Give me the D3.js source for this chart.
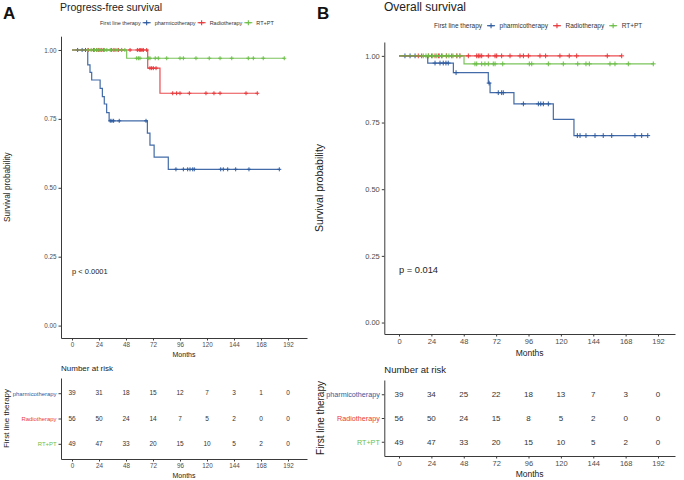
<!DOCTYPE html>
<html>
<head>
<meta charset="utf-8">
<script src="https://cdn.jsdelivr.net/npm/d3@7"></script>
<style>
  body { margin: 0; background: #fff; }
  svg { font-family: "Liberation Sans", Arial, sans-serif; display: block; }
</style>
</head>
<body>
<div id="chart"></div>
<script>
// ---- data ----
const timeTicks = [0, 24, 48, 72, 96, 120, 144, 168, 192];
const survTicks = [0, 0.25, 0.5, 0.75, 1];
const groups = ["pharmicotherapy", "Radiotherapy", "RT+PT"];

// Progress-free survival: [month, survival] steps, last follow-up, censored months
const pfsPharmSteps = [[0, 1], [14, 0.946], [16, 0.919], [17.5, 0.891], [25, 0.861], [27, 0.831],
  [28.7, 0.804], [30.8, 0.773], [33, 0.743], [67, 0.698], [69.3, 0.655], [73, 0.611], [85.6, 0.567]];
const pfsPharmEnd = 184.3;
const pfsPharmCensor = [5, 9, 12, 34, 35.5, 37, 42, 65.8, 92.4, 99, 102.8, 104.9, 107.3, 108.7,
  132.2, 134.5, 138.4, 145.5, 157.3, 184.3];

const pfsRadioSteps = [[0, 1], [67.3, 0.934], [78.2, 0.843]];
const pfsRadioEnd = 164.7;
const pfsRadioCensor = [14.5, 19, 22, 23.4, 24.9, 26.4, 27.8, 35.3, 38.2, 41.2, 44.2, 51.6, 58.1,
  59.8, 61.1, 62.2, 63.4, 66.4, 69.3, 70.8, 72.3, 74.7, 89.5, 93, 96, 104.3, 119.1, 126.2, 131.6,
  154.7, 164.7];

const pfsRtptSteps = [[0, 1], [48.6, 0.970]];
const pfsRtptEnd = 188.7;
const pfsRtptCensor = [14, 17, 20, 22, 24, 26, 29, 31, 34, 37, 40, 44, 47, 57.5, 59, 60.4, 67.8,
  69.3, 74, 76.7, 84.2, 96, 99, 110.2, 122, 131.6, 142, 156.7, 161.2, 170, 188.7];

// Overall survival
const osPharmSteps = [[0, 1], [21.3, 0.973], [40.3, 0.937], [66.2, 0.898], [67.5, 0.862],
  [85.2, 0.82], [114.4, 0.762], [129.7, 0.701]];
const osPharmEnd = 184.4;
const osPharmCensor = [4.4, 8.2, 11.9, 26.7, 30.4, 32.8, 34.8, 36.5, 42.3, 66.8, 73.6, 76.1, 77.3,
  92.2, 103.3, 105.1, 107, 110.7, 132.2, 134.2, 138.6, 145.3, 151.4, 157.7, 174.9, 179.9, 184.4];

const osRadioSteps = [[0, 1]];
const osRadioEnd = 165.1;
const osRadioCensor = [14.3, 16.8, 21.7, 24.2, 26.7, 29.2, 31.6, 35.3, 39.1, 42.8, 45.2, 51.4,
  57.6, 58.8, 60, 61.3, 66.2, 71.2, 72.4, 76.1, 82.3, 89.7, 92.2, 95.9, 104.5, 108.7, 119.3,
  126.2, 131.7, 154.4, 165.1];

const osRtptSteps = [[0, 1], [48.2, 0.97]];
const osRtptEnd = 188.5;
const osRtptCensor = [18, 20, 22, 25, 28, 30, 32, 35, 37, 40, 43, 45, 56.3, 57.6, 61.3, 63.7,
  66.2, 69.9, 71.2, 76.9, 96.6, 98.4, 110.7, 121.8, 132.5, 138.6, 141.1, 156.4, 160.1, 170, 188.5];

// Numbers at risk at each time tick
const pfsRiskPharm = [39, 31, 18, 15, 12, 7, 3, 1, 0];
const pfsRiskRadio = [56, 50, 24, 14, 7, 5, 2, 0, 0];
const pfsRiskRtpt = [49, 47, 33, 20, 15, 10, 5, 2, 0];
const osRiskPharm = [39, 34, 25, 22, 18, 13, 7, 3, 0];
const osRiskRadio = [56, 50, 24, 15, 8, 5, 2, 0, 0];
const osRiskRtpt = [49, 47, 33, 20, 15, 10, 5, 2, 0];

const colors = ["#2E5B9F", "#E8393C", "#6CBE48"];
const axisColor = "#3a3a3a";
const tickText = "#4d4d4d";

const svg = d3.select("#chart")
  .append("svg")
  .attr("width", 684)
  .attr("height", 480);

// ---- panel drawing ----
function survAt(steps, t) {
  let s = steps[0][1];
  for (const [ti, si] of steps) if (ti <= t) s = si;
  return s;
}

function styleAxis(g, fs) {
  g.select(".domain").attr("stroke", axisColor).attr("stroke-width", 1);
  g.selectAll(".tick line").attr("stroke", axisColor);
  g.selectAll(".tick text").attr("fill", tickText).style("font-size", fs + "px");
}

function drawPanel(cfg) {
  const g = svg.append("g");

  // panel letter + title
  g.append("text").attr("x", cfg.letterX).attr("y", 19)
    .style("font-size", "17px").style("font-weight", "bold").attr("fill", "#111")
    .text(cfg.letter);
  g.append("text").attr("x", cfg.titleX).attr("y", cfg.titleY)
    .style("font-size", cfg.fs.title + "px").attr("fill", "#222")
    .text(cfg.title);

  // legend
  const leg = g.append("g").attr("transform", `translate(${cfg.legX},${cfg.legY})`);
  let lx = 0;
  const lt = leg.append("text").attr("x", lx).attr("dy", "0.35em")
    .style("font-size", cfg.fs.legend + "px").attr("fill", "#333").text("First line therapy");
  lx += lt.node().getComputedTextLength() + cfg.leg.g1;
  groups.forEach((name, i) => {
    leg.append("line").attr("x1", lx).attr("x2", lx + cfg.leg.kw)
      .attr("stroke", colors[i]).attr("stroke-width", 1.1);
    leg.append("path").attr("d", `M${lx + cfg.leg.kw / 2 - 2.5},0h5M${lx + cfg.leg.kw / 2},-2.5v5`)
      .attr("stroke", colors[i]).attr("stroke-width", 1.1);
    lx += cfg.leg.kw + cfg.leg.g2;
    const t = leg.append("text").attr("x", lx).attr("dy", "0.35em")
      .style("font-size", cfg.fs.legend + "px").attr("fill", "#333").text(name);
    lx += t.node().getComputedTextLength() + cfg.leg.g3;
  });

  // scales for the survival plot
  const x = d3.scaleLinear().domain(cfg.xDom).range(cfg.xRange);
  const y = d3.scaleLinear().domain(cfg.yDom).range(cfg.yRange);

  g.append("g")
    .attr("transform", `translate(0,${cfg.yRange[0]})`)
    .call(d3.axisBottom(x).tickValues(timeTicks).tickSize(2.5).tickSizeOuter(0).tickPadding(2))
    .call(a => styleAxis(a, cfg.fs.tick));
  g.append("g")
    .attr("transform", `translate(${cfg.xRange[0]},0)`)
    .call(d3.axisLeft(y).tickValues(survTicks).tickFormat(d3.format(".2f")).tickSize(2.5).tickSizeOuter(0).tickPadding(2))
    .call(a => styleAxis(a, cfg.fs.tick));

  g.append("text").attr("x", (cfg.xRange[0] + cfg.xRange[1]) / 2).attr("y", cfg.monthsY)
    .attr("text-anchor", "middle").style("font-size", cfg.fs.months + "px").attr("fill", "#222")
    .text("Months");
  g.append("text")
    .attr("transform", `translate(${cfg.yTitleX},${(cfg.yRange[0] + cfg.yRange[1]) / 2}) rotate(-90)`)
    .attr("text-anchor", "middle").style("font-size", cfg.fs.ytitle + "px").attr("fill", "#222")
    .text("Survival probability");

  // curves
  const line = d3.line().x(d => x(d[0])).y(d => y(d[1])).curve(d3.curveStepAfter);
  cfg.curves.forEach((c, i) => {
    const pts = c.steps.concat([[c.end, c.steps[c.steps.length - 1][1]]]);
    g.append("path").datum(pts).attr("d", line)
      .attr("fill", "none").attr("stroke", colors[i]).attr("stroke-width", 1.2)
      .attr("stroke-opacity", 0.9);
    g.append("g").selectAll("path").data(c.censor).join("path")
      .attr("transform", t => `translate(${x(t)},${y(survAt(c.steps, t))})`)
      .attr("d", `M-${cfg.cs},0h${2 * cfg.cs}M0,-${cfg.cs}v${2 * cfg.cs}`)
      .attr("stroke", colors[i]).attr("stroke-width", 1);
  });

  g.append("text").attr("x", x(0)).attr("y", cfg.pY)
    .style("font-size", cfg.fs.p + "px").attr("fill", "#222").text(cfg.pText);

  // risk table
  g.append("text").attr("x", cfg.xRange[0]).attr("y", cfg.riskTitleY)
    .style("font-size", cfg.fs.riskTitle + "px").attr("fill", "#222").text("Number at risk");

  const ry = d3.scalePoint().domain(groups).range(cfg.riskRange).padding(0.6);
  g.append("g")
    .attr("transform", `translate(0,${cfg.riskRange[1]})`)
    .call(d3.axisBottom(x).tickValues(timeTicks).tickSize(2.5).tickSizeOuter(0).tickPadding(2))
    .call(a => styleAxis(a, cfg.fs.tick));
  g.append("g")
    .attr("transform", `translate(${cfg.xRange[0]},0)`)
    .call(d3.axisLeft(ry).tickSize(2.5).tickSizeOuter(0).tickPadding(2))
    .call(a => styleAxis(a, cfg.fs.rowLabel))
    .call(a => a.selectAll(".tick text").attr("fill", (d, i) => colors[i]));

  cfg.risk.forEach((row, i) => {
    g.append("g").selectAll("text").data(row).join("text")
      .attr("x", (d, j) => x(timeTicks[j]))
      .attr("y", ry(groups[i]))
      .attr("dy", "0.35em").attr("text-anchor", "middle")
      .style("font-size", cfg.fs.num + "px").attr("fill", "#333")
      .text(d => d);
  });

  g.append("text").attr("x", (cfg.xRange[0] + cfg.xRange[1]) / 2).attr("y", cfg.riskMonthsY)
    .attr("text-anchor", "middle").style("font-size", cfg.fs.months + "px").attr("fill", "#222")
    .text("Months");
  g.append("text")
    .attr("transform", `translate(${cfg.riskYTitleX},${(cfg.riskRange[0] + cfg.riskRange[1]) / 2}) rotate(-90)`)
    .attr("text-anchor", "middle").style("font-size", cfg.fs.riskYTitle + "px").attr("fill", "#222")
    .text("First line therapy");
}

drawPanel({
  letter: "A", letterX: 3,
  title: "Progress-free survival", titleX: 60, titleY: 11,
  legX: 100, legY: 22.7, leg: { g1: 2, kw: 8, g2: 4, g3: 2 },
  xDom: [-9.78, 208.9], xRange: [61, 307],
  yDom: [-0.045, 1.05], yRange: [338, 36.2],
  monthsY: 357, yTitleX: 9.5,
  cs: 2,
  curves: [
    { steps: pfsPharmSteps, end: pfsPharmEnd, censor: pfsPharmCensor },
    { steps: pfsRadioSteps, end: pfsRadioEnd, censor: pfsRadioCensor },
    { steps: pfsRtptSteps, end: pfsRtptEnd, censor: pfsRtptCensor }
  ],
  pText: "p < 0.0001", pY: 274,
  riskTitleY: 371, riskRange: [378, 459], riskMonthsY: 478, riskYTitleX: 9,
  risk: [pfsRiskPharm, pfsRiskRadio, pfsRiskRtpt],
  fs: { title: 10.5, legend: 5.5, tick: 6.3, months: 7, ytitle: 8.3, p: 7.5,
        riskTitle: 8, rowLabel: 5.9, num: 6.5, riskYTitle: 8 }
});

drawPanel({
  letter: "B", letterX: 317,
  title: "Overall survival", titleX: 384, titleY: 11,
  legX: 434, legY: 25.7, leg: { g1: 5, kw: 8, g2: 4.5, g3: 5 },
  xDom: [-10.9, 204.6], xRange: [384.3, 675],
  yDom: [-0.043, 1.052], yRange: [334, 42],
  monthsY: 356, yTitleX: 323,
  cs: 2.4,
  curves: [
    { steps: osPharmSteps, end: osPharmEnd, censor: osPharmCensor },
    { steps: osRadioSteps, end: osRadioEnd, censor: osRadioCensor },
    { steps: osRtptSteps, end: osRtptEnd, censor: osRtptCensor }
  ],
  pText: "p = 0.014", pY: 273,
  riskTitleY: 373, riskRange: [380, 456], riskMonthsY: 477, riskYTitleX: 324,
  risk: [osRiskPharm, osRiskRadio, osRiskRtpt],
  fs: { title: 12, legend: 6.5, tick: 7.5, months: 8.5, ytitle: 10.5, p: 9.3,
        riskTitle: 9.5, rowLabel: 7.2, num: 8, riskYTitle: 10 }
});
</script>
</body>
</html>
